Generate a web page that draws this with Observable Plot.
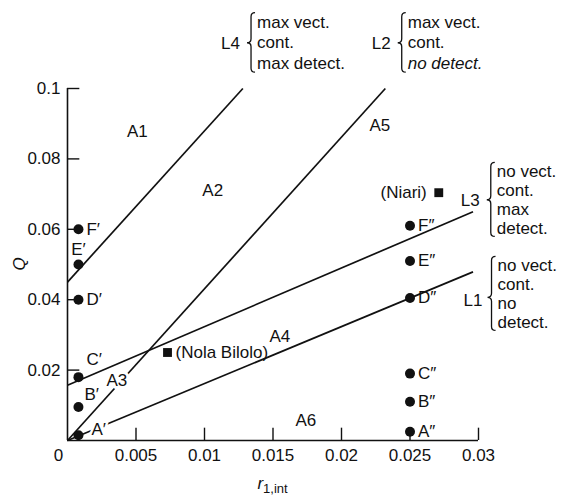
<!DOCTYPE html>
<html><head><meta charset="utf-8">
<script src="https://cdn.jsdelivr.net/npm/d3@7"></script>
<script src="https://cdn.jsdelivr.net/npm/@observablehq/plot@0.6"></script>
<style>
body{margin:0;background:#fff}
svg{font-family:"Liberation Sans",Arial,sans-serif}
</style>
</head><body><div id="chart"></div>
<script>
// ---- data ----
const xTicks = [0.005, 0.01, 0.015, 0.02, 0.025, 0.03];
const xTickLabels = ["0.005", "0.01", "0.015", "0.02", "0.025", "0.03"];
const yTicks = [0.02, 0.04, 0.06, 0.08, 0.1];
const yTickLabels = ["0.02", "0.04", "0.06", "0.08", "0.1"];
const originLabel = "0";

const leftNames = ["A′", "B′", "C′", "D′", "E′", "F′"];
const leftX = [0.0008, 0.0008, 0.0008, 0.0008, 0.0008, 0.0008];
const leftY = [0.0015, 0.0095, 0.018, 0.040, 0.050, 0.060];

const rightNames = ["A″", "B″", "C″", "D″", "E″", "F″"];
const rightX = [0.025, 0.025, 0.025, 0.025, 0.025, 0.025];
const rightY = [0.0025, 0.011, 0.019, 0.0405, 0.051, 0.061];

const siteNames = ["(Nola Bilolo)", "(Niari)"];
const siteX = [0.0073, 0.0271];
const siteY = [0.025, 0.0704];

const lineNames = ["L1", "L2", "L3", "L4"];
const lineX1 = [0, 0, 0, 0];
const lineY1 = [0, 0, 0.0157, 0.045];
const lineX2 = [0.0296, 0.0232, 0.0296, 0.0128];
const lineY2 = [0.0479, 0.1, 0.065, 0.1];

const regionNames = ["A1", "A2", "A3", "A4", "A5", "A6"];
const regionX = [0.0051, 0.0106, 0.0036, 0.0155, 0.0228, 0.0174];
const regionY = [0.0877, 0.071, 0.017, 0.0295, 0.0895, 0.0057];

const noteNames = ["L4", "L2", "L3", "L1"];
const noteX = [0.0119, 0.0229, 0.0294, 0.0296];
const noteY = [0.1128, 0.1128, 0.0682, 0.0398];
const noteL4 = ["max vect.", "cont.", "max detect."];
const noteL2 = ["max vect.", "cont.", "no detect."];
const noteL3 = ["no vect.", "cont.", "max", "detect."];
const noteL1 = ["no vect.", "cont.", "no", "detect."];
const noteTexts = [noteL4, noteL2, noteL3, noteL1];

const xLabel = "r";
const xLabelSub = "1,int";
const yLabel = "Q";

// ---- layout (styles, not data) ----
const FS = 17;
const leftOffsets = [[13, -6, "start"], [6, -13, "start"], [8, -18, "start"], [8, 0, "start"], [0, -15, "middle"], [8, 0, "start"]];
const noteBlock = [
  {tx: 27, dy0: -21, step: 20.5, italicLast: false},
  {tx: 27, dy0: -21, step: 20.5, italicLast: true},
  {tx: 27, dy0: -29, step: 19, italicLast: false},
  {tx: 25, dy0: -35, step: 19, italicLast: false}
];

const idx = a => a.map((_, i) => i);
const black = "#111";

const marks = [
  Plot.ruleX([0], {y1: 0, y2: 0.1, stroke: black, strokeWidth: 1.6}),
  Plot.ruleY([0], {x1: 0, x2: 0.03, stroke: black, strokeWidth: 1.6}),
  Plot.ruleY(yTicks, {x1: 0, x2: 0.0009, stroke: black, strokeWidth: 1.4}),
  Plot.ruleX(xTicks, {y1: 0, y2: 0.0035, stroke: black, strokeWidth: 1.4}),
  Plot.text(idx(xTicks), {x: i => xTicks[i], y: 0, text: i => xTickLabels[i], dy: 15, fontSize: FS, fill: black}),
  Plot.text([originLabel], {x: 0, y: 0, text: d => d, dy: 15, dx: -9, fontSize: FS, fill: black}),
  Plot.text(idx(yTicks), {x: 0, y: i => yTicks[i], text: i => yTickLabels[i], dx: -7, textAnchor: "end", fontSize: FS, fill: black}),
  Plot.link(idx(lineNames), {x1: i => lineX1[i], y1: i => lineY1[i], x2: i => lineX2[i], y2: i => lineY2[i], stroke: black, strokeWidth: 1.7}),
  Plot.text(idx(regionNames), {x: i => regionX[i], y: i => regionY[i], text: i => regionNames[i], fontSize: FS, fill: black, stroke: "white", strokeWidth: 6, paintOrder: "stroke"}),
  Plot.dot(idx(leftNames), {x: i => leftX[i], y: i => leftY[i], r: 5, fill: black}),
  Plot.dot(idx(rightNames), {x: i => rightX[i], y: i => rightY[i], r: 5, fill: black}),
  Plot.dot(idx(siteNames), {x: i => siteX[i], y: i => siteY[i], r: 5, symbol: "square", fill: black}),
  ...idx(leftNames).map(i => Plot.text([i], {x: leftX[i], y: leftY[i], text: () => leftNames[i], dx: leftOffsets[i][0], dy: leftOffsets[i][1], textAnchor: leftOffsets[i][2], fontSize: FS, fill: black, stroke: "white", strokeWidth: 5, paintOrder: "stroke"})),
  Plot.text(idx(rightNames), {x: i => rightX[i], y: i => rightY[i], text: i => rightNames[i], dx: 8, textAnchor: "start", fontSize: FS, fill: black}),
  Plot.text([0], {x: siteX[0], y: siteY[0], text: () => siteNames[0], dx: 8, textAnchor: "start", fontSize: FS, fill: black}),
  Plot.text([1], {x: siteX[1], y: siteY[1], text: () => siteNames[1], dx: -12, textAnchor: "end", fontSize: FS, fill: black}),
  Plot.text(idx(noteNames), {x: i => noteX[i], y: i => noteY[i], text: i => noteNames[i], fontSize: FS, fill: black})
];

const svg = Plot.plot({
  width: 569, height: 496,
  marginLeft: 67, marginRight: 91, marginTop: 88, marginBottom: 56,
  x: {domain: [0, 0.03], axis: null},
  y: {domain: [0, 0.1], axis: null},
  style: {fontFamily: '"Liberation Sans", Arial, sans-serif', fontSize: FS + "px", background: "white", overflow: "visible"},
  marks
});

const xs = svg.scale("x"), ys = svg.scale("y");
const g = d3.select(svg).append("g").attr("font-size", FS).attr("fill", black).attr("text-anchor", "start");

// note text blocks and braces
noteTexts.forEach((lines, i) => {
  const b = noteBlock[i];
  const px = xs.apply(noteX[i]), py = ys.apply(noteY[i]);
  lines.forEach((t, j) => {
    g.append("text")
      .attr("x", px + b.tx).attr("y", py + b.dy0 + j * b.step)
      .attr("dy", "0.35em").attr("text-anchor", "start")
      .attr("font-style", (b.italicLast && j === lines.length - 1) ? "italic" : null)
      .text(t);
  });
  const top = py + b.dy0 - b.step * 0.5 + 1;
  const bot = py + b.dy0 + (lines.length - 0.5) * b.step - 1;
  const mid = (top + bot) / 2 + (py - (top + bot) / 2) * 0.6;
  const xr = px + b.tx - 2, xm = xr - 4, xl = xr - 8;
  const r = 4;
  const path = `M${xr},${top} Q${xm},${top} ${xm},${top + r} L${xm},${mid - r} Q${xm},${mid} ${xl},${mid} Q${xm},${mid} ${xm},${mid + r} L${xm},${bot - r} Q${xm},${bot} ${xr},${bot}`;
  g.append("path").attr("d", path).attr("fill", "none").attr("stroke", black).attr("stroke-width", 1.3);
});

// axis titles
const xt = g.append("text").attr("x", xs.apply(0.015)).attr("y", 489).attr("text-anchor", "middle");
xt.append("tspan").attr("font-style", "italic").text(xLabel);
xt.append("tspan").attr("font-size", 13).attr("dy", 4).text(xLabelSub);
g.append("text").attr("transform", `translate(19,${ys.apply(0.05)}) rotate(-90)`)
  .attr("text-anchor", "middle").attr("dy", "0.35em").attr("font-style", "italic").text(yLabel);

document.getElementById("chart").appendChild(svg);
</script>
</body></html>
